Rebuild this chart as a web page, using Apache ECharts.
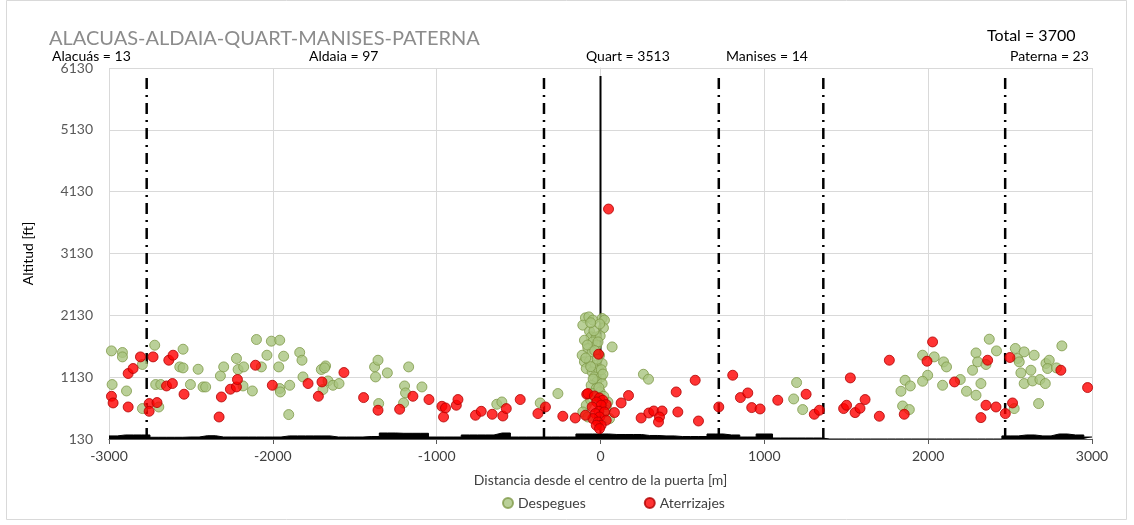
<!DOCTYPE html>
<html>
<head>
<meta charset="utf-8">
<script src="https://cdn.jsdelivr.net/npm/echarts@6/dist/echarts.min.js"></script>
<style>
  html, body { margin: 0; padding: 0; background: #fff; }
  #chart { width: 1134px; height: 525px; }
</style>
</head>
<body>
<div id="chart"></div>
<script>
// Despegues (takeoffs): [distance m, altitude ft]
var despegues = [
  [-2985,1555],[-2918,1529],[-2918,1458],[-2981,1011],[-2893,907],[-2796,1335],[-2721,1647],
  [-2796,622],[-2715,1011],[-2684,1011],[-2696,648],[-2548,1582],[-2568,1296],[-2548,1280],
  [-2503,1011],[-2456,1258],[-2426,972],[-2410,972],[-2320,1150],[-2300,1296],[-2222,1432],
  [-2212,1254],[-2178,1296],[-2182,988],[-2125,907],[-2100,1739],[-2036,1485],[-2009,1712],
  [-1958,1728],[-2070,1296],[-1964,1296],[-1934,1469],[-1958,946],[-1954,891],[-1897,999],
  [-1903,525],[-1836,1529],[-1822,1404],[-1816,1134],[-1704,1254],[-1678,1312],[-1684,1280],
  [-1663,1069],[-1694,930],[-1633,999],[-1596,1027],[-1379,1296],[-1358,1404],[-1373,1134],
  [-1301,1199],[-1354,703],[-1171,1296],[-1196,988],[-1190,875],[-1202,713],[-1090,972],
  [-633,692],[-602,729],[-368,713],[-260,865],[262,1177],[293,1097],
  [-92,2089],[-71,2105],[-47,2052],[10,2079],[24,2052],[18,1927],[-108,1971],[-67,1874],
  [-57,1781],[-26,1781],[-2,1798],[-98,1728],[-47,1700],[-23,1647],[71,1619],[-77,1594],
  [-51,1539],[-6,1485],[-112,1485],[-98,1377],[-67,1388],[-31,1323],[10,1351],[-87,1270],
  [-51,1215],[-10,1242],[-37,1134],[4,1134],[-23,1053],[-57,999],[10,1027],[-26,946],
  [-2,891],[-47,865],[45,729],[35,648],[-87,676],[-108,567],[-77,486],[55,460],
  [-40,1880],[-15,1700],[-80,1650],[-35,1560],[-20,1420],[-60,1300],[5,1250],[-45,1100],
  [15,1180],[-10,960],[-30,800],[20,820],[-60,760],[30,600],[-90,1440],[-5,1990],[-60,2010],
  [1197,1043],[1179,778],[1234,606],[1859,1080],[1834,902],[1891,988],[1844,664],[1885,606],
  [1966,1485],[2037,1458],[1997,1161],[1966,1064],[2094,1377],[2112,1296],[2088,999],
  [2196,1092],[2234,902],[2292,1522],[2302,1377],[2353,1335],[2271,1242],[2292,838],
  [2322,1027],[2373,1744],[2417,1555],[2525,622],[2532,1594],[2546,1432],[2556,1377],
  [2586,1539],[2566,1199],[2627,1242],[2647,1485],[2586,1027],[2637,1069],[2682,1092],
  [2715,1027],[2674,703],[2719,1351],[2739,1404],[2729,1270],[2783,1280],[2816,1636]
];

// Aterrizajes (landings): [distance m, altitude ft]
var aterrizajes = [
  [-2985,821],[-2975,713],[-2883,1189],[-2853,1270],[-2883,648],[-2808,1458],[-2731,1458],
  [-2755,703],[-2755,578],[-2707,719],[-2635,1404],[-2609,1485],[-2649,988],[-2613,1027],
  [-2542,854],[-2328,486],[-2314,810],[-2259,935],[-2222,972],[-2216,1092],[-2106,1323],
  [-2003,999],[-1785,1027],[-1700,1053],[-1722,821],[-1566,1205],[-1446,800],[-1358,595],
  [-1226,611],[-1145,821],[-1047,768],[-968,659],[-946,632],[-958,486],[-880,676],[-870,768],
  [-763,514],[-728,578],[-661,530],[-596,502],[-575,622],[-490,768],[-382,541],[-336,648],
  [-230,498],[-154,470],[-84,854],[171,833],[126,713],[85,557],[248,470],[295,551],[325,583],
  [376,583],[360,486],[354,405],[462,891],[472,567],
  [-12,1501],[-77,865],[-37,826],[-6,794],[14,757],[-23,729],[35,687],[4,676],[-51,648],
  [-10,578],[-31,541],[24,567],[-6,486],[-47,460],[35,433],[-16,405],[4,352],[-26,352],
  [-6,298],[-92,514],[49,3849],
  [578,1080],[598,421],[722,648],[807,1161],[854,800],[899,875],[923,638],[974,616],
  [1082,757],[1255,854],[1305,530],[1336,595],[1484,622],[1502,676],[1525,1118],[1554,557],
  [1584,627],[1615,768],[1702,498],[1763,1404],[1854,530],[1993,1388],[2027,1700],[2161,1053],
  [2322,476],[2353,676],[2363,1404],[2414,648],[2471,541],[2499,1448],[2515,713],[2810,1242],
  [2973,962]
];

// terrain profile under the flight paths
var terrainX = [-3000,-2900,-2800,-2700,-2600,-2500,-2400,-2300,-2200,-2100,-2000,-1900,-1800,
  -1700,-1600,-1500,-1400,-1300,-1200,-1100,-1000,-900,-800,-700,-600,-500,-400,-300,-200,-100,
  0,100,200,300,400,500,600,700,800,900,1000,1100,1200,1300,1400,1500,1600,1700,1800,1900,2000,
  2100,2200,2300,2400,2500,2600,2700,2800,2900,3000];
var terrainAlt = [180,195,195,158,158,162,183,162,162,162,162,180,180,180,162,162,170,227,222,222,
  162,162,195,195,227,162,162,162,162,211,211,203,203,187,180,170,170,211,195,162,211,146,146,146,
  130,130,130,130,130,130,130,130,130,130,130,180,195,180,211,195,162];

// municipal boundaries (dash-dot) and gate centre (solid)
var boundaries = [-2770, -345, 722, 1360, 2470];
var gateCentre = 0;
var lineTop = 6000;

var municipios = ['Alacuás = 13', 'Aldaia = 97', 'Quart = 3513', 'Manises = 14', 'Paterna = 23'];
var municipioLeft = [52, 309, 586, 726, 1010];
var totalLabel = 'Total = 3700';

var FONT = 'Lato, "Open Sans", sans-serif';

var series = [];
series.push({
    name: 'terreno',
    type: 'line',
    step: 'middle',
    symbol: 'none',
    silent: true,
    data: terrainX.map(function (x, i) { return [x, terrainAlt[i]]; }),
    lineStyle: { color: '#000', width: 1 },
    areaStyle: { color: '#000', opacity: 1, origin: 'start' },
    z: 1
});
boundaries.forEach(function (b) {
    series.push({
        type: 'line',
        symbol: 'none',
        silent: true,
        data: [[b, 130], [b, lineTop]],
        lineStyle: { color: '#000', width: 2.5, type: [11, 6, 2, 6] },
        z: 2
    });
});
series.push({
    type: 'line',
    symbol: 'none',
    silent: true,
    data: [[gateCentre, 130], [gateCentre, lineTop]],
    lineStyle: { color: '#000', width: 2 },
    z: 2
});
series.push({
    name: 'Despegues',
    type: 'scatter',
    symbolSize: 10,
    data: despegues,
    itemStyle: { color: '#a9c47f', borderColor: '#7f9a48', borderWidth: 1 },
    z: 3
});
series.push({
    name: 'Aterrizajes',
    type: 'scatter',
    symbolSize: 10,
    data: aterrizajes,
    itemStyle: { color: '#ff0000', borderColor: '#b00000', borderWidth: 1 },
    z: 4
});

var graphics = [{
    type: 'rect',
    shape: { x: 6.5, y: 0.5, width: 1120, height: 519 },
    style: { fill: 'none', stroke: '#d9d9d9', lineWidth: 1 },
    silent: true
}];
municipios.forEach(function (t, i) {
    graphics.push({
        type: 'text',
        left: municipioLeft[i],
        top: 49,
        style: { text: t, fill: '#000', font: '14px ' + FONT }
    });
});
graphics.push({
    type: 'text',
    left: 987,
    top: 28,
    style: { text: totalLabel, fill: '#000', font: '16px ' + FONT }
});

function plain(v) { return String(v); }

var option = {
    animation: false,
    backgroundColor: '#fff',
    title: {
        text: 'ALACUAS-ALDAIA-QUART-MANISES-PATERNA',
        left: 44,
        top: 24,
        textStyle: { color: '#8c8c8c', fontSize: 20, fontWeight: 'normal', fontFamily: FONT }
    },
    legend: {
        data: ['Despegues', 'Aterrizajes'],
        top: 491,
        left: 497,
        icon: 'circle',
        itemWidth: 10,
        itemHeight: 10,
        itemGap: 58,
        textStyle: { color: '#404040', fontSize: 14, fontFamily: FONT }
    },
    grid: { left: 109, right: 42, top: 68, bottom: 86 },
    xAxis: {
        type: 'value',
        min: -3000,
        max: 3000,
        interval: 1000,
        name: 'Distancia desde el centro de la puerta [m]',
        nameLocation: 'middle',
        nameGap: 34,
        nameTextStyle: { color: '#404040', fontSize: 14, fontFamily: FONT },
        axisLine: { show: true, lineStyle: { color: '#595959', width: 1 } },
        axisTick: { show: true, length: 5, inside: false, lineStyle: { color: '#595959' } },
        axisLabel: { color: '#404040', fontSize: 14, fontFamily: FONT, margin: 10, formatter: plain },
        splitLine: { show: true, lineStyle: { color: '#d9d9d9', width: 1 } }
    },
    yAxis: {
        type: 'value',
        min: 130,
        max: 6130,
        interval: 1000,
        name: 'Altitud [ft]',
        nameLocation: 'middle',
        nameGap: 74,
        nameTextStyle: { color: '#000', fontSize: 14, fontFamily: FONT },
        axisLine: { show: true, lineStyle: { color: '#d9d9d9' } },
        axisTick: { show: false },
        axisLabel: { color: '#595959', fontSize: 14, fontFamily: FONT, margin: 16, formatter: plain },
        splitLine: { show: true, lineStyle: { color: '#d9d9d9', width: 1 } }
    },
    graphic: graphics,
    series: series
};

var myChart = echarts.init(document.getElementById('chart'));
myChart.setOption(option);
</script>
</body>
</html>
